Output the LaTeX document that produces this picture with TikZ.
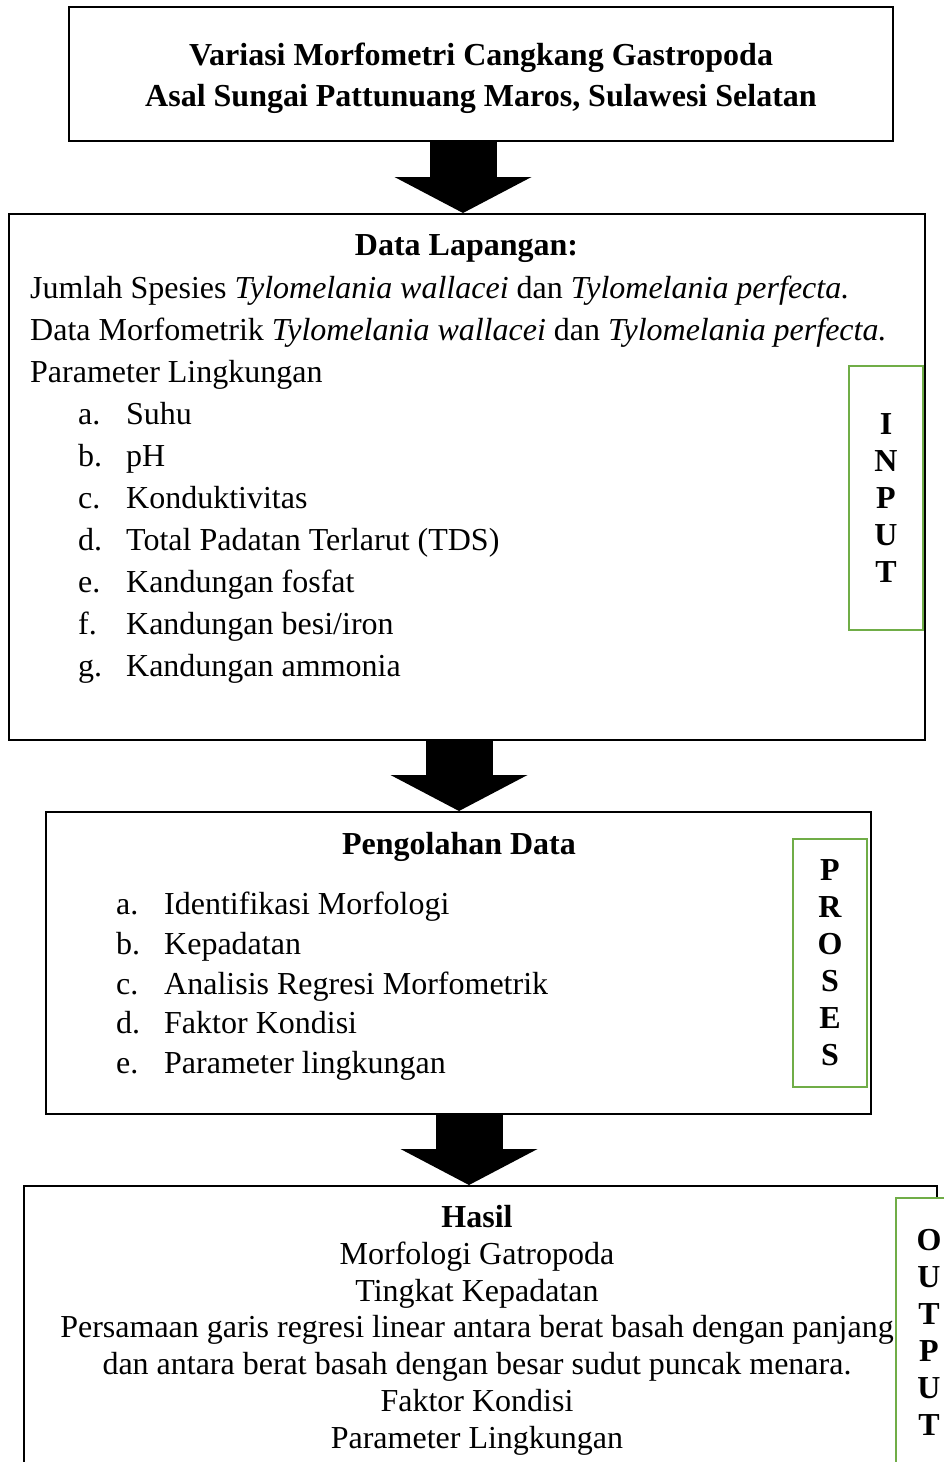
\documentclass[tikz,border=0pt]{standalone}
\usepackage{fontspec}
\setmainfont{Liberation Serif}
\usetikzlibrary{positioning, arrows.meta, calc}

\definecolor{stagegreen}{HTML}{70AD47}
\newcommand{\lbl}[1]{\makebox[48pt][l]{#1}}

\begin{document}
\begin{tikzpicture}[
    x=1pt, y=-1pt,
    box/.style={draw, line width=2pt, inner sep=0pt},
    stagebox/.style={draw=stagegreen, line width=2pt, fill=white, inner sep=0pt, align=center,
        font=\fontsize{32}{37}\selectfont\bfseries},
    heading/.style={inner sep=0pt, anchor=base, font=\fontsize{32}{40}\selectfont\bfseries},
    body/.style={inner sep=0pt, anchor=base west, align=left},
    bigarrow/.style={line width=67pt, -{Triangle[width=137pt, length=36pt, line width=0pt]}}
]
\useasboundingbox (0,0) rectangle (944,1462);

    % --- MAIN BOXES ---
    \node[box, minimum width=824pt, minimum height=134pt] (judul) at (481,74) {};
    \node[box, minimum width=916pt, minimum height=526pt] (input) at (467,477) {};
    \node[box, minimum width=825pt, minimum height=302pt] (proses) at (458.5,963) {};
    \node[box, minimum width=913pt, minimum height=320pt] (hasil) at (480.5,1346) {};

    % --- TEXTS (multi-line nodes sit on the baseline of their last line) ---
    \node[heading, align=center, font=\fontsize{32}{41}\selectfont\bfseries] (judultext) at (481,106.5)
        {Variasi Morfometri Cangkang Gastropoda\\Asal Sungai Pattunuang Maros, Sulawesi Selatan};

    \node[heading] (inputhead) at (466.5,255.5) {Data Lapangan:};
    \node[body, font=\fontsize{32}{42.1}\selectfont] (inputlist) at (30,676.9)
        {Jumlah Spesies \textit{Tylomelania wallacei} dan \textit{Tylomelania perfecta.}\\
         Data Morfometrik \textit{Tylomelania wallacei} dan \textit{Tylomelania perfecta.}\\
         Parameter Lingkungan\\
         \hspace*{48pt}\lbl{a.}Suhu\\
         \hspace*{48pt}\lbl{b.}pH\\
         \hspace*{48pt}\lbl{c.}Konduktivitas\\
         \hspace*{48pt}\lbl{d.}Total Padatan Terlarut (TDS)\\
         \hspace*{48pt}\lbl{e.}Kandungan fosfat\\
         \hspace*{48pt}\lbl{f.}Kandungan besi/iron\\
         \hspace*{48pt}\lbl{g.}Kandungan ammonia};

    \node[heading] (proseshead) at (459,854.5) {Pengolahan Data};
    \node[body, font=\fontsize{32}{39.8}\selectfont] (proseslist) at (116,1073.7)
        {\lbl{a.}Identifikasi Morfologi\\
         \lbl{b.}Kepadatan\\
         \lbl{c.}Analisis Regresi Morfometrik\\
         \lbl{d.}Faktor Kondisi\\
         \lbl{e.}Parameter lingkungan};

    \node[heading, align=center, font=\fontsize{32}{36.8}\selectfont] (hasiltext) at (477,1448.3)
        {\textbf{Hasil}\\
         Morfologi Gatropoda\\
         Tingkat Kepadatan\\
         Persamaan garis regresi linear antara berat basah dengan panjang\\
         dan antara berat basah dengan besar sudut puncak menara.\\
         Faktor Kondisi\\
         Parameter Lingkungan};

    % --- BLOCK ARROWS ---
    \draw[bigarrow] ($(judul.south)+(-18,0)$) -- ($(judul.south |- input.north)+(-18,0)$);
    \draw[bigarrow] ($(input.south)+(-8,0)$) -- ($(input.south |- proses.north)+(-8,0)$);
    \draw[bigarrow] ($(proses.south)+(10.5,0)$) -- ($(proses.south |- hasil.north)+(10.5,0)$);

    % --- STAGE TAGS ---
    \node[stagebox, minimum width=74pt, minimum height=264pt] (inputtag) at (886,498) {I\\N\\P\\U\\T};
    \node[stagebox, minimum width=74pt, minimum height=248pt] (prosestag) at (830,963) {P\\R\\O\\S\\E\\S};
    \node[stagebox, minimum width=66pt, minimum height=268pt] (hasiltag) at (929,1332) {O\\U\\T\\P\\U\\T};

\end{tikzpicture}
\end{document}
